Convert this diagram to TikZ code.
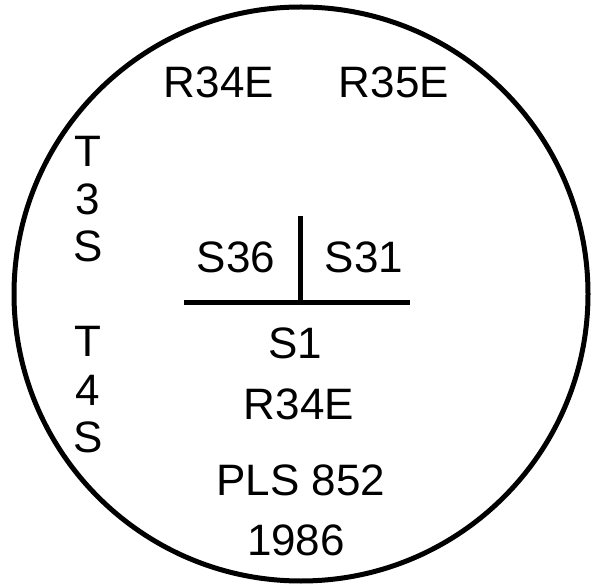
\documentclass[tikz,border=0pt]{standalone}
\usepackage{fontspec}
\setmainfont{Liberation Sans}
\begin{document}
\begin{tikzpicture}[x=1pt,y=-1pt,
  lbl/.style={anchor=base,inner sep=0pt,font=\fontsize{44}{44}\selectfont},
  rule/.style={line width=5pt},
  ring/.style={line width=5pt}]
\useasboundingbox (0,0) rectangle (592,585);
\fill[white] (0,0) rectangle (592,585);
\node[ring,draw,circle,minimum size=574pt,inner sep=0pt] (rim) at (301,294) {};
\node[lbl] (r34a) at (219,98) {R34E};
\node[lbl] (r35) at (394,98) {R35E};
\node[lbl] (t1) at (88,167) {T};
\node[lbl] (n3) at (88,215) {3};
\node[lbl] (s1l) at (88,262) {S};
\node[lbl] (t2) at (88,357) {T};
\node[lbl] (n4) at (88,406) {4};
\node[lbl] (s2l) at (88,452) {S};
\node[lbl] (s36) at (236,273) {S36};
\node[lbl] (s31) at (364,273) {S31};
\node[lbl] (s1) at (295,359) {S1};
\node[lbl] (r34b) at (299,420) {R34E};
\node[lbl] (pls) at (301,495) {PLS 852};
\node[lbl] (yr) at (296,555) {1986};
\coordinate (vt) at (300,216);
\coordinate (vb) at (300,305);
\coordinate (hl) at (184,303);
\coordinate (hr) at (410,303);
\draw[rule] (vt) -- (vb);
\draw[rule] (hl) -- (hr);
\end{tikzpicture}
\end{document}
